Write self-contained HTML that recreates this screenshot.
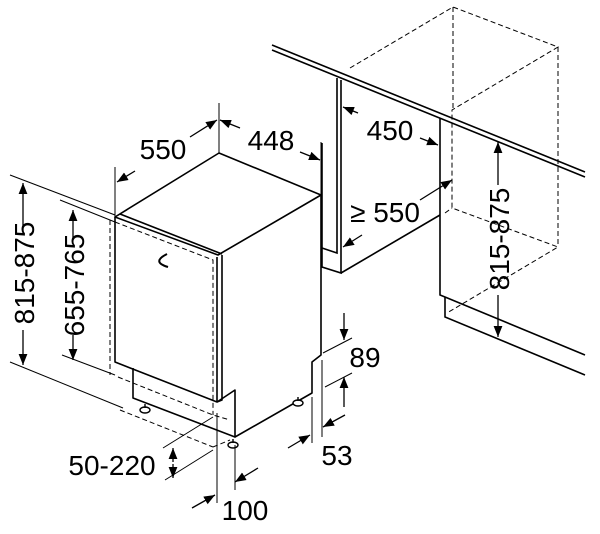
<!DOCTYPE html>
<html><head><style>html,body{margin:0;padding:0;background:#fff}svg{display:block}text{font-family:"Liberation Sans",sans-serif;font-size:28px;fill:#000}</style></head>
<body>
<svg width="600" height="534" viewBox="0 0 600 534" xmlns="http://www.w3.org/2000/svg">
<defs>
<marker id="a" viewBox="0 0 10 10" refX="10" refY="5" markerWidth="11" markerHeight="11" markerUnits="userSpaceOnUse" orient="auto"><path d="M0,1 L10,5 L0,9 z" fill="#000"/></marker>
</defs>
<g fill="none" stroke="#000" stroke-width="1.6" stroke-linejoin="round">
<path d="M115,217 L219,153 L321,195 L218,255 Z" fill="#fff"/>
<path d="M120,214 L222,254"/>
<path d="M115,217 L115,362 L217,402 L217,257"/>
<path d="M222,255 L222,400 L217,402"/>
<path d="M321,195 L321,355 L312,362 L312,393 L235,437 L235,390 L217,402"/>
<path d="M133,368 L133,398 L235,437"/>
<path d="M167,254 Q151,262 168,267" stroke-width="2"/>
</g>
<g fill="none" stroke="#000" stroke-width="1" stroke-dasharray="5,3">
<path d="M110,220 L110,375"/>
<path d="M115,222 L213,260 L213,415"/>
<path d="M118,377 L213,415 L230,420"/>
<path d="M120,410 L213,447"/>
<path d="M213,447 L230,440"/>
<path d="M350,68 L453,7 L558,47 L452,110 L452,208 L558,247 L447,313"/>
<path d="M453,7 L453,110"/>
<path d="M558,47 L558,247"/>
<path d="M445,213 L452,208"/>
</g>
<g fill="#fff" stroke="#000" stroke-width="1.4">
<ellipse cx="145" cy="410" rx="5" ry="3"/><ellipse cx="233" cy="445" rx="5" ry="3"/><ellipse cx="298" cy="403" rx="5" ry="3"/>
<path d="M145,404 v4 M233,439 v4 M298,397 v4"/>
</g>
<g fill="none" stroke="#000" stroke-width="1.6">
<path d="M272,45 L585,172"/><path d="M272,50 L585,177"/>
<path d="M337,78 L337,253 L322,248"/><path d="M341,80 L341,273 L322,267 L322,143"/>
<path d="M341,273 L440,215"/>
<path d="M440,118 L440,295 L445,297 L585,355"/>
<path d="M445,297 L445,317 L585,375"/>
</g>
<g fill="none" stroke="#000" stroke-width="1">
<path d="M10,175 L115,215"/><path d="M10,362 L123,408"/>
<path d="M60,200 L115,222"/><path d="M62,355 L115,375"/>
<path d="M115,167 L115,217"/><path d="M219,103 L219,153"/><path d="M321,142 L321,195"/>
<path d="M163,448 L213,417"/><path d="M165,480 L213,450"/>
<path d="M217,413 L217,503"/><path d="M235,445 L235,490"/>
<path d="M312,397 L312,443"/><path d="M322,360 L322,437"/>
<path d="M323,353 L352,338"/><path d="M325,387 L352,373"/>
</g>
<g fill="none" stroke="#000" stroke-width="1.3" marker-end="url(#a)">
<path d="M23,235 L23,183"/><path d="M23,330 L23,365"/>
<path d="M73,240 L73,210"/><path d="M73,335 L73,360"/>
<path d="M135,171 L117,182"/><path d="M190,137 L217,120"/>
<path d="M240,128 L220,120"/><path d="M300,152 L320,160"/>
<path d="M173,462 L173,448"/><path d="M173,464 L173,478"/>
<path d="M192,508 L215,495"/><path d="M258,468 L235,482"/>
<path d="M288,448 L310,435"/><path d="M345,415 L323,427"/>
<path d="M344,313 L344,340"/><path d="M344,407 L344,377"/>
<path d="M358,113 L343,107"/><path d="M420,138 L438,145"/>
<path d="M362,235 L343,247"/><path d="M420,200 L452,180"/>
<path d="M498,185 L498,142"/><path d="M498,295 L498,337"/>
</g>
<text x="163" y="159" text-anchor="middle">550</text>
<text x="271" y="150" text-anchor="middle">448</text>
<text x="390" y="140" text-anchor="middle">450</text>
<text x="385" y="222" text-anchor="middle">≥ 550</text>
<text x="112" y="475" text-anchor="middle">50-220</text>
<text x="245" y="520" text-anchor="middle">100</text>
<text x="337" y="465" text-anchor="middle">53</text>
<text x="365" y="367" text-anchor="middle">89</text>
<text transform="translate(34,273) rotate(-90)" text-anchor="middle">815-875</text>
<text transform="translate(84,285) rotate(-90)" text-anchor="middle">655-765</text>
<text transform="translate(509,239) rotate(-90)" text-anchor="middle">815-875</text>
</svg>
</body></html>
